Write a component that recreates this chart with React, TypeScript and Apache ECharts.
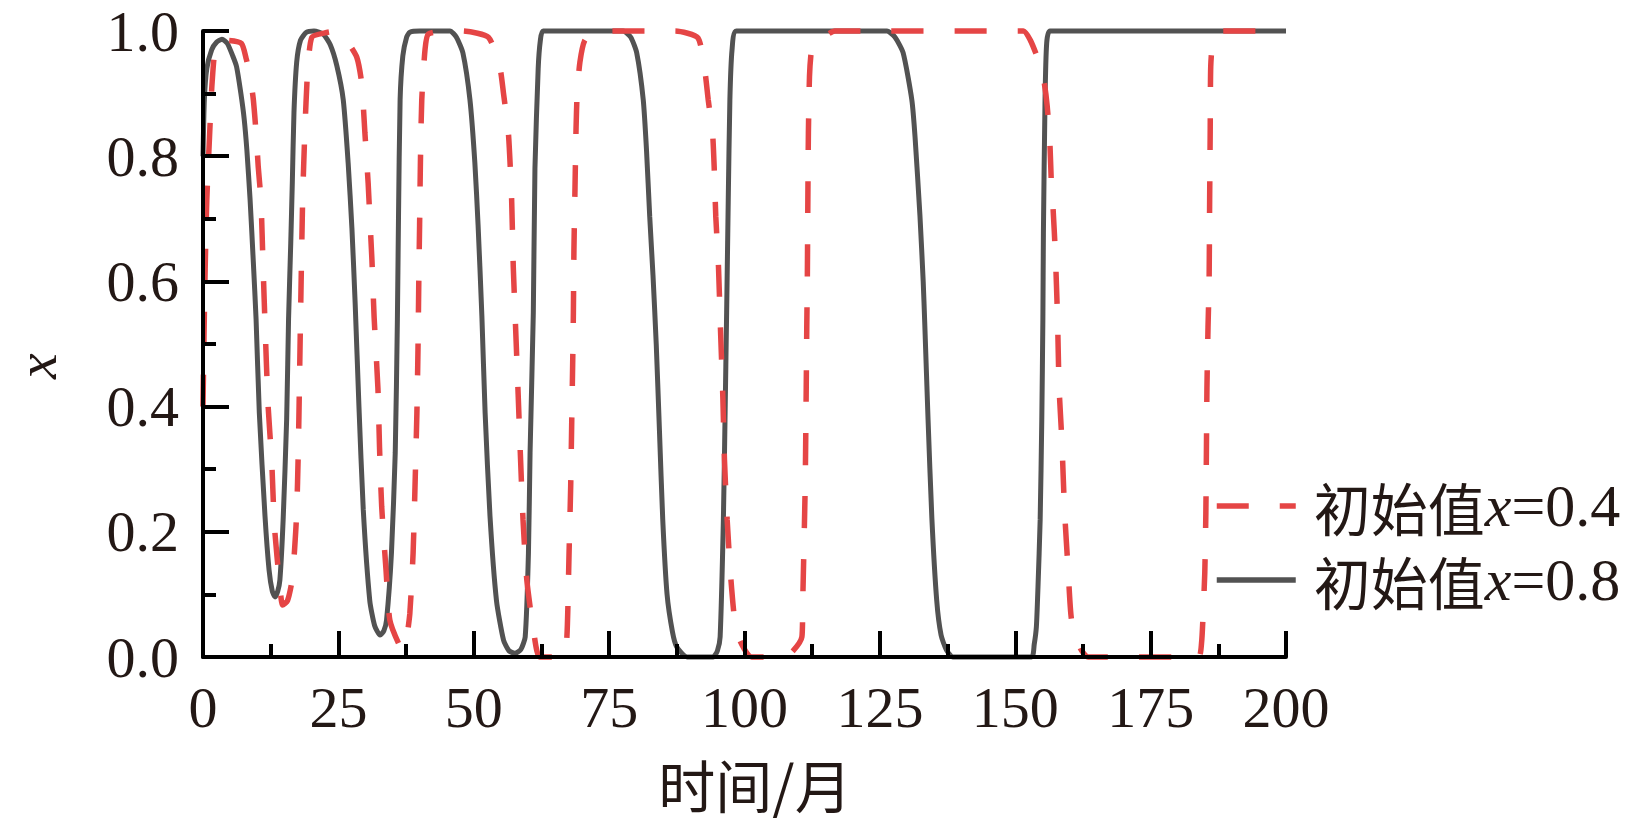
import React, { useEffect, useRef } from "react";
import * as echarts from "echarts";

// Series: initial value x = 0.8 (solid grey)
const solidT = [0, 0.25, 0.7, 1.6, 2.5, 3.5, 4.5, 5.5, 6.2, 7, 7.6, 8.1, 8.7, 9.3, 9.8, 10.4, 11.45, 12.2, 12.8, 13.3, 13.8, 14.2, 14.8, 15.45, 15.8, 16.2, 16.5, 16.8, 17.3, 18, 19.1, 20.5, 22.2, 23.5, 24.7, 25.9, 26.8, 27.5, 28.1, 28.8, 29.6, 30.8, 31.7, 32.7, 33.4, 33.9, 34.8, 35.5, 35.9, 36.1, 36.4, 36.9, 37.6, 38.2, 40, 45.6, 46.8, 48, 49.3, 50.2, 50.8, 51.5, 52.1, 53, 54.2, 55.5, 56.5, 57.6, 58.7, 59.5, 60.1, 60.4, 61, 61.3, 61.9, 62.3, 62.8, 77.6, 79, 80.1, 81.3, 81.9, 82.5, 83.1, 83.7, 84.3, 84.9, 85.7, 86.7, 87.5, 89.4, 94.2, 95, 95.5, 96.1, 96.4, 96.7, 97, 97.3, 97.7, 98.5, 126.3, 127.8, 129.3, 130.9, 131.5, 132.4, 133, 133.3, 133.9, 134.6, 135.5, 136.3, 137.3, 138.5, 153, 153.5, 153.9, 154.2, 154.6, 154.9, 155.1, 155.2, 155.5, 155.8, 156.4, 200];
const solidX = [0.8, 0.89, 0.94, 0.97, 0.982, 0.987, 0.98, 0.96, 0.943, 0.9, 0.86, 0.81, 0.73, 0.63, 0.54, 0.39, 0.225, 0.139, 0.105, 0.096, 0.105, 0.123, 0.219, 0.38, 0.54, 0.66, 0.76, 0.87, 0.95, 0.985, 0.998, 1.0, 0.995, 0.978, 0.945, 0.89, 0.79, 0.685, 0.565, 0.4, 0.235, 0.09, 0.05, 0.035, 0.042, 0.059, 0.166, 0.326, 0.54, 0.7, 0.89, 0.96, 0.99, 0.998, 1.0, 1.0, 0.99, 0.965, 0.89, 0.79, 0.69, 0.545, 0.39, 0.225, 0.09, 0.027, 0.01, 0.006, 0.012, 0.032, 0.166, 0.326, 0.55, 0.78, 0.94, 0.985, 1.0, 1.0, 0.99, 0.965, 0.89, 0.81, 0.703, 0.61, 0.5, 0.36, 0.22, 0.1, 0.04, 0.016, 0.0, 0.0, 0.01, 0.032, 0.219, 0.379, 0.55, 0.73, 0.89, 0.97, 1.0, 1.0, 0.99, 0.965, 0.89, 0.83, 0.705, 0.6, 0.53, 0.379, 0.222, 0.09, 0.035, 0.011, 0.0, 0.0, 0.02, 0.048, 0.112, 0.219, 0.379, 0.538, 0.677, 0.89, 0.98, 1.0, 1.0];

// Series: initial value x = 0.4 (dashed red)
const dashT = [0, 0.2, 0.4, 0.7, 1.2, 1.7, 2.5, 4.5, 7.1, 8.0, 8.7, 9.3, 9.9, 10.2, 10.7, 11.1, 11.5, 12.0, 12.7, 13.2, 14.2, 14.7, 15.6, 16.4, 16.9, 17.3, 17.6, 17.8, 18.0, 18.4, 18.8, 19.3, 20.1, 22.5, 24.7, 26.5, 28.4, 29.3, 29.9, 30.5, 30.8, 31.2, 31.6, 32.3, 32.6, 33.0, 33.8, 34.5, 36.1, 37.0, 37.6, 38.2, 38.8, 39.2, 39.5, 39.7, 39.85, 40.0, 40.15, 40.4, 41.0, 41.6, 45, 47.8, 52.7, 54.8, 55.5, 56.4, 57.0, 57.3, 57.7, 58.2, 58.6, 59.1, 59.8, 61.0, 62.2, 66.5, 67.2, 67.6, 67.9, 68.1, 68.3, 68.4, 68.5, 68.7, 68.9, 69.1, 69.6, 70.5, 72.4, 87.2, 91.4, 92.7, 93.3, 94.1, 94.4, 94.7, 95.2, 95.5, 96.0, 96.3, 96.8, 97.6, 98.6, 101.3, 107.5, 110.6, 110.75, 111.2, 111.4, 111.5, 111.6, 111.7, 111.8, 112.0, 112.3, 112.8, 114.5, 116.7, 151.5, 152.8, 154.2, 155.3, 155.9, 156.4, 156.7, 157.0, 157.4, 157.8, 158.1, 158.6, 159.1, 159.8, 160.4, 162.0, 163.5, 183.8, 184.4, 184.7, 185.0, 185.2, 185.3, 185.4, 185.6, 185.8, 185.9, 186.0, 186.1, 186.5, 187.5, 200];
const dashX = [0.4, 0.52, 0.62, 0.73, 0.83, 0.92, 0.982, 0.985, 0.98, 0.955, 0.927, 0.89, 0.826, 0.783, 0.73, 0.623, 0.52, 0.405, 0.31, 0.208, 0.112, 0.083, 0.09, 0.12, 0.17, 0.23, 0.33, 0.43, 0.538, 0.73, 0.837, 0.933, 0.99, 0.997, 1.0, 0.985, 0.958, 0.917, 0.837, 0.757, 0.703, 0.634, 0.543, 0.43, 0.335, 0.24, 0.139, 0.059, 0.022, 0.012, 0.03, 0.07, 0.166, 0.288, 0.39, 0.49, 0.6, 0.69, 0.79, 0.89, 0.97, 0.995, 1.0, 1.0, 0.99, 0.943, 0.9, 0.837, 0.73, 0.623, 0.533, 0.42, 0.326, 0.219, 0.123, 0.045, 0.0, 0.0, 0.032, 0.166, 0.272, 0.379, 0.486, 0.55, 0.65, 0.75, 0.847, 0.9, 0.95, 0.985, 1.0, 1.0, 0.989, 0.935, 0.89, 0.837, 0.783, 0.703, 0.623, 0.54, 0.415, 0.315, 0.219, 0.112, 0.038, 0.0, 0.0, 0.032, 0.086, 0.27, 0.43, 0.527, 0.6, 0.73, 0.837, 0.927, 0.965, 0.982, 0.99, 1.0, 1.0, 0.985, 0.955, 0.92, 0.88, 0.82, 0.75, 0.714, 0.645, 0.543, 0.43, 0.347, 0.235, 0.134, 0.059, 0.014, 0.0, 0.0, 0.022, 0.07, 0.134, 0.23, 0.326, 0.43, 0.527, 0.6, 0.73, 0.837, 0.943, 0.985, 1.0, 1.0];

const seriesNames = ["初始值x=0.4", "初始值x=0.8"];
const xAxisTitle = "时间/月";
const yAxisTitle = "x";

const SERIF = '"Liberation Serif", "Times New Roman", serif';
const CJK = '"Noto Sans CJK SC", sans-serif';
const TEXT = "#231815";
const RED = "#e54545";
const GREY = "#525252";

export default function App() {
  const ref = useRef<HTMLDivElement>(null);
  useEffect(() => {
    const chart = echarts.init(ref.current!, null, { renderer: "svg" });
    const solidData = solidT.map((t, i) => [t, solidX[i]]);
    const dashData = dashT.map((t, i) => [t, dashX[i]]);
    const axisCommon = {
      type: "value",
      z: 5,
      splitLine: { show: false },
      axisLine: { show: true, onZero: false, lineStyle: { color: "#000", width: 4 } },
      axisTick: { show: true, inside: true, length: 26, lineStyle: { color: "#000", width: 4 } },
      minorTick: { show: true, splitNumber: 2, length: 13, lineStyle: { color: "#000", width: 4 } },
    };
    chart.setOption({
      animation: false,
      backgroundColor: "#ffffff",
      grid: { left: 203, top: 31, width: 1083, height: 626, containLabel: false },
      xAxis: {
        ...axisCommon,
        min: 0,
        max: 200,
        interval: 25,
        axisLabel: { margin: 21, fontFamily: SERIF, fontSize: 58, color: TEXT },
      },
      yAxis: {
        ...axisCommon,
        min: 0,
        max: 1,
        interval: 0.2,
        axisLabel: {
          margin: 24,
          fontFamily: SERIF,
          fontSize: 58,
          color: TEXT,
          formatter: (v: number) => v.toFixed(1),
        },
      },
      legend: {
        orient: "vertical",
        left: 1214,
        top: 476,
        padding: 0,
        itemGap: 14,
        itemWidth: 79,
        itemHeight: 14,
        selectedMode: false,
        data: seriesNames,
        itemStyle: { opacity: 0, color: "rgba(0,0,0,0)", borderWidth: 0 },
        lineStyle: { width: 5.5 },
        formatter: (name: string) => name.replace(/^(.*?)x(=.*)$/, "{a|$1}{b|x}{c|$2}"),
        textStyle: {
          color: TEXT,
          fontSize: 58,
          lineHeight: 58,
          rich: {
            a: { fontFamily: CJK, fontSize: 57, lineHeight: 58, color: TEXT, padding: [0, 0, 0, 13] },
            b: { fontFamily: SERIF, fontStyle: "italic", fontSize: 60, lineHeight: 58, color: TEXT },
            c: { fontFamily: SERIF, fontSize: 60, lineHeight: 58, color: TEXT },
          },
        },
      },
      graphic: [
        {
          type: "text",
          x: 755,
          y: 783,
          style: {
            text: xAxisTitle,
            fontFamily: CJK,
            fontSize: 57,
            fill: TEXT,
            align: "center",
            verticalAlign: "middle",
          },
        },
        {
          type: "text",
          x: 36,
          y: 366,
          rotation: Math.PI / 2,
          style: {
            text: yAxisTitle,
            fontFamily: SERIF,
            fontStyle: "italic",
            fontSize: 58,
            fill: TEXT,
            align: "center",
            verticalAlign: "middle",
          },
        },
      ],
      series: [
        {
          name: seriesNames[1],
          type: "line",
          data: solidData,
          showSymbol: false,
          symbol: "none",
          smooth: 0.2,
          clip: false,
          z: 2,
          lineStyle: { color: GREY, width: 5 },
          itemStyle: { color: GREY },
        },
        {
          name: seriesNames[0],
          type: "line",
          data: dashData,
          showSymbol: false,
          symbol: "none",
          smooth: 0.2,
          clip: false,
          z: 3,
          lineStyle: { color: RED, width: 5.5, type: [32, 31], cap: "butt" },
          itemStyle: { color: RED },
        },
      ],
    });
    return () => chart.dispose();
  }, []);
  return (
    <div
      ref={ref}
      style={{ position: "fixed", left: 0, top: 0, width: 1641, height: 827, background: "#fff" }}
    />
  );
}
